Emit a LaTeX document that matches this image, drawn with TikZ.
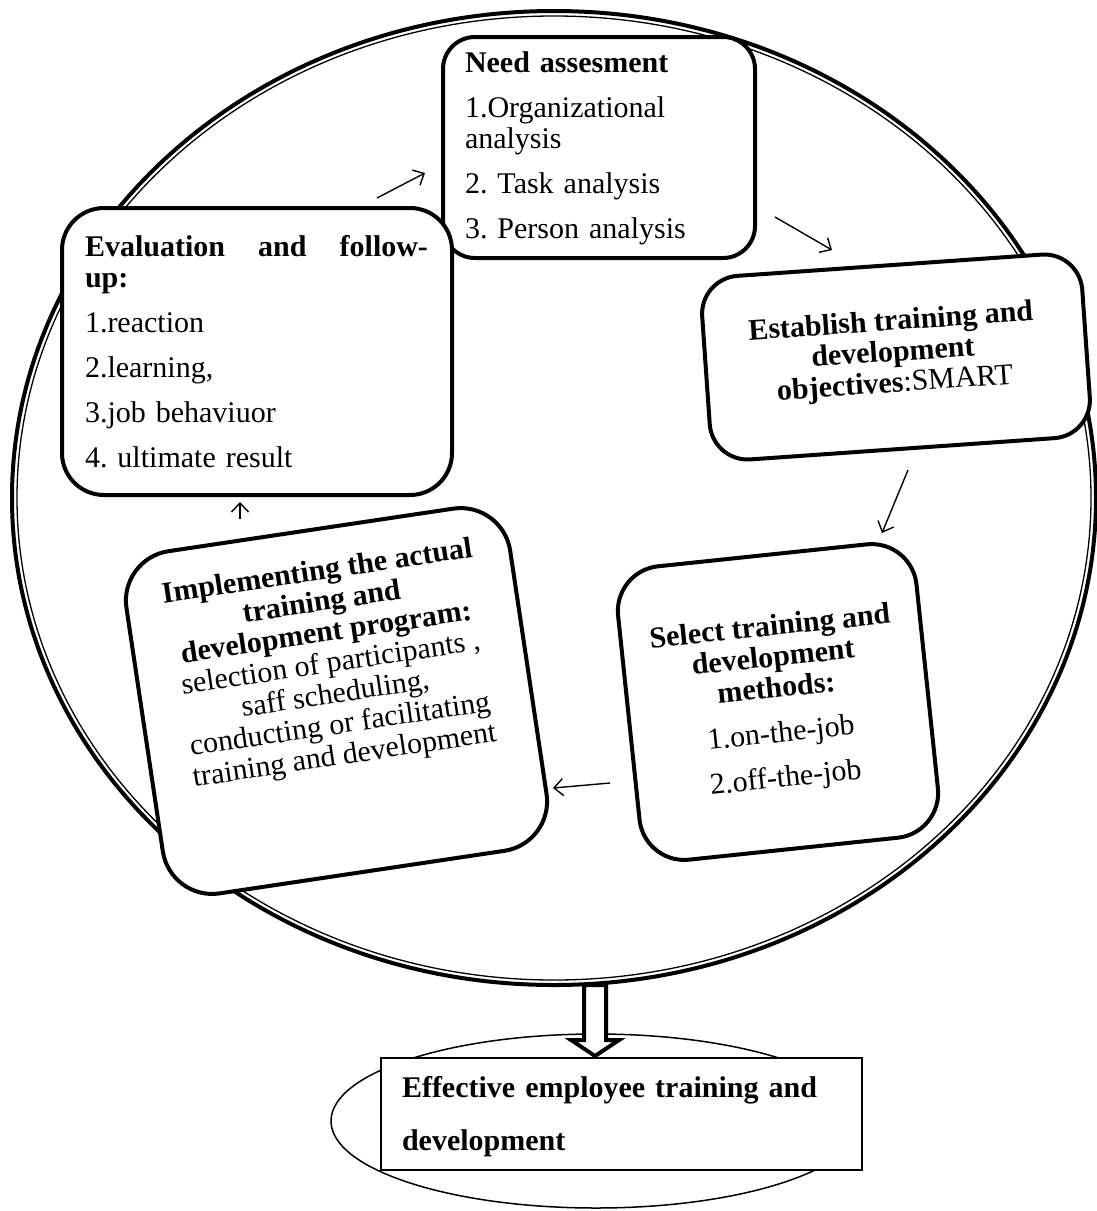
\documentclass[tikz,border=0pt]{standalone}
\usepackage{fontspec}
\setmainfont{Liberation Serif}
\usetikzlibrary{arrows.meta,shapes.geometric,calc}
\newcommand\diafont{\frenchspacing\fontsize{30pt}{31pt}\selectfont}
\begin{document}
\frenchspacing
\begin{tikzpicture}[x=1pt,y=-1pt,
  ring/.style={draw, ellipse, inner sep=0pt, outer sep=0pt},
  box/.style={draw, line width=4pt, fill=white, rounded corners=#1, inner sep=0pt, outer sep=0pt},
  txt/.style={inner sep=0pt, outer sep=0pt, font=\diafont},
  conn/.style={line width=1.4pt, -{Straight Barb[length=9pt,width=17pt]}},
]
\useasboundingbox (0,0) rectangle (1096,1211);

% big double ring
\node[ring, line width=4pt, minimum width=1084pt, minimum height=974pt] (outerring) at (554,498) {};
\node[ring, line width=1.3pt, minimum width=1074pt, minimum height=964pt] (innerring) at (554,498) {};

% boxes
\node[box=32pt, minimum width=312pt, minimum height=221pt] (need) at (599,147.5) {};
\node[box=42pt, minimum width=390pt, minimum height=287pt] (eval) at (257,351.5) {};
\node[box=38pt, minimum width=381pt, minimum height=184pt, rotate=4] (estab) at (896,357) {};
\node[box=45pt, minimum width=300pt, minimum height=295pt, rotate=6] (select) at (778,702) {};
\node[box=50pt, minimum width=388pt, minimum height=346pt, rotate=8.5] (impl) at (336.5,701) {};

% texts
\node[txt, anchor=base west, text width=300pt, align=left] (needtxt) at (465,72)
  {\textbf{Need assesment}\\[14pt]1.Organizational\\analysis\\[14pt]2. Task analysis\\[14pt]3. Person analysis};
\node[txt, anchor=base west, text width=343pt, align=left] (evaltxt) at (85,256)
  {\textbf{Evaluation\hfill and\hfill follow-}\\\textbf{up:}\\[14pt]1.reaction\\[14pt]2.learning,\\[14pt]3.job behaviuor\\[14pt]4. ultimate result};
\node[txt, align=center, rotate=4] (estabtxt) at (893,354)
  {\textbf{Establish training and}\\\textbf{development}\\\textbf{objectives}:SMART};
\node[txt, align=center, rotate=6] (selecttxt) at (778,704)
  {\textbf{Select training and}\\\textbf{development}\\\textbf{methods:}\\[14pt]1.on-the-job\\[14pt]2.off-the-job};
\node[txt, align=center, rotate=8.5] (impltxt) at (331,665)
  {\textbf{Implementing the actual}\\\textbf{training and}\\\textbf{development program:}\\selection of participants ,\\saff scheduling,\\conducting or facilitating\\training and development};

% cycle connectors
\coordinate (c1s) at (377,198); \coordinate (c1e) at (425,173);
\coordinate (c2s) at (775,217); \coordinate (c2e) at (832,250);
\coordinate (c3s) at (908,470); \coordinate (c3e) at (882,533);
\coordinate (c4s) at (610,783); \coordinate (c4e) at (553,788);
\coordinate (c5s) at (240,519); \coordinate (c5e) at (240,502);
\draw[conn] (c1s) -- (c1e);
\draw[conn] (c2s) -- (c2e);
\draw[conn] (c3s) -- (c3e);
\draw[conn] (c4s) -- (c4e);
\draw[conn] (c5s) -- (c5e);

% result
\node[ring, line width=1.5pt, minimum width=530pt, minimum height=174pt] (resell) at (596,1121) {};
\node[draw, fill=white, line width=1.5pt, minimum width=481pt, minimum height=112pt, inner sep=0pt, outer sep=0pt] (res) at (621.5,1114) {};
\node[txt, anchor=base west, text width=460pt, align=left] (restxt) at (402,1097)
  {\textbf{Effective employee training and}\\[22pt]\textbf{development}};

% block arrow
\coordinate (btop) at (595,985);
\coordinate (btip) at ($(btop |- res.north)+(0,-2)$);
\draw[line width=4pt, fill=white, line join=miter]
  ($(btop)+(-11,0)$) -- ($(btip)+(-11,-16)$) -- ($(btip)+(-24,-16)$) -- (btip)
  -- ($(btip)+(24,-16)$) -- ($(btip)+(11,-16)$) -- ($(btop)+(11,0)$) -- cycle;
\end{tikzpicture}
\end{document}
